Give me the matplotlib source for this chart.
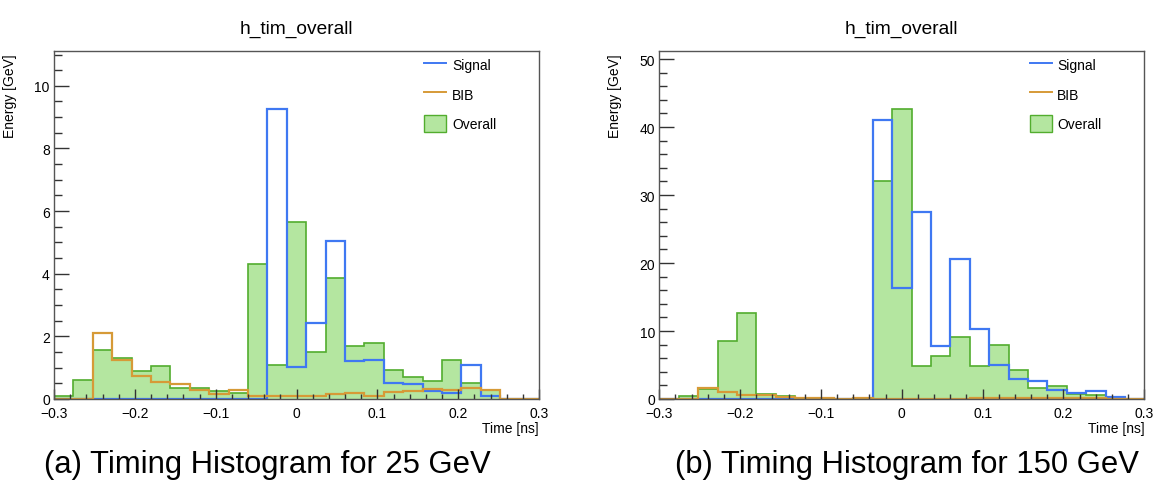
import matplotlib.pyplot as plt
import numpy as np
from matplotlib.lines import Line2D
from matplotlib.patches import Patch
from matplotlib.ticker import MultipleLocator

plt.rcParams['font.family'] = ['Liberation Sans', 'DejaVu Sans']

# 25 bins of 0.024 ns between -0.3 and 0.3 ns
edges = np.linspace(-0.3, 0.3, 26)

# 25 GeV sample
signal_25 = [0, 0, 0, 0, 0, 0, 0, 0, 0, 0, 0, 9.26, 1.01, 2.44, 5.06,
             1.22, 1.25, 0.51, 0.48, 0.24, 0.19, 1.08, 0.08, 0, 0]
bib_25 = [0, 0, 2.12, 1.25, 0.74, 0.55, 0.48, 0.30, 0.16, 0.29, 0.11, 0.11, 0.10,
          0.08, 0.16, 0.19, 0.11, 0.23, 0.27, 0.32, 0.29, 0.34, 0.30, 0, 0]
overall_25 = [0.08, 0.62, 1.58, 1.30, 0.88, 1.04, 0.35, 0.34, 0.25, 0.19, 4.32, 1.07, 5.65,
              1.51, 3.87, 1.68, 1.79, 0.93, 0.69, 0.58, 1.23, 0.50, 0.30, 0, 0]

# 150 GeV sample
signal_150 = [0, 0, 0, 0, 0, 0, 0, 0, 0, 0, 0, 41.0, 16.34, 27.5, 7.83,
              20.65, 10.27, 4.99, 2.98, 2.59, 1.32, 0.88, 1.13, 0.34, 0]
bib_150 = [0, 0, 1.55, 0.98, 0.59, 0.59, 0.24, 0.15, 0.15, 0, 0.15, 0, 0,
           0, 0, 0, 0.1, 0.1, 0.12, 0.15, 0.15, 0.12, 0.1, 0, 0]
overall_150 = [0, 0.44, 1.40, 8.46, 12.72, 0.68, 0.49, 0.15, 0.15, 0, 0.15, 32.0, 42.66,
               4.90, 6.26, 9.05, 4.79, 7.93, 4.31, 1.61, 1.86, 0.68, 0.59, 0.15, 0]

BLUE = '#3f78f2'
ORANGE = '#d69a37'
GREEN_EDGE = '#52ad2e'
GREEN_FILL = '#b4e6a0'


def draw_panel(ax, signal, bib, overall, ymax, major, minor):
    ax.stairs(overall, edges, fill=True, color=GREEN_FILL)
    ax.stairs(overall, edges, color=GREEN_EDGE, lw=1.2)
    ax.stairs(signal, edges, color=BLUE, lw=1.6)
    ax.stairs(bib, edges, color=ORANGE, lw=1.6)

    ax.set_xlim(-0.3, 0.3)
    ax.set_ylim(0, ymax)
    ax.xaxis.set_major_locator(MultipleLocator(0.1))
    ax.xaxis.set_minor_locator(MultipleLocator(0.02))
    ax.yaxis.set_major_locator(MultipleLocator(major))
    ax.yaxis.set_minor_locator(MultipleLocator(minor))
    ax.xaxis.set_major_formatter(lambda v, p: '0' if abs(v) < 1e-9 else f'{v:.1f}'.replace('-', '\u2212'))

    ax.tick_params(axis='both', which='both', direction='in', colors='#333333',
                   labelcolor='black', labelsize=10, pad=3, width=1)
    ax.tick_params(axis='x', which='major', pad=5)
    ax.tick_params(axis='y', which='major', length=10.8)
    ax.tick_params(axis='y', which='minor', length=5.4)
    ax.tick_params(axis='x', which='major', length=7.4)
    ax.tick_params(axis='x', which='minor', length=3.7)
    for s in ax.spines.values():
        s.set_color('#555555')
        s.set_linewidth(1)

    ax.set_title('h_tim_overall', fontsize=13.8, pad=13)
    ax.set_ylabel('Energy [GeV]', loc='top', fontsize=10)
    ax.yaxis.set_label_coords(-0.077, 0.992)
    ax.set_xlabel('Time [ns]', loc='right', fontsize=10)
    ax.xaxis.set_label_coords(1.0, -0.062)

    handles = [Line2D([], [], color=BLUE, lw=1.4),
               Line2D([], [], color=ORANGE, lw=1.4),
               Patch(facecolor=GREEN_FILL, edgecolor=GREEN_EDGE, lw=1)]
    ax.legend(handles, ['Signal', 'BIB', 'Overall'], loc='upper left',
              bbox_to_anchor=(0.752, 1.0), frameon=False, fontsize=10,
              handlelength=1.6, handleheight=1.45, labelspacing=0.93,
              handletextpad=0.4, borderaxespad=0)


fig = plt.figure(figsize=(11.56, 4.89), dpi=100)
ax1 = fig.add_axes([54 / 1156, 89 / 489, 485 / 1156, 348 / 489])
ax2 = fig.add_axes([659.3 / 1156, 89 / 489, 485 / 1156, 348 / 489])

draw_panel(ax1, signal_25, bib_25, overall_25, 1.2 * max(signal_25), 2, 0.5)
draw_panel(ax2, signal_150, bib_150, overall_150, 1.2 * max(overall_150), 10, 2)

fig.text(267.5 / 1156, 0.049, '(a) Timing Histogram for 25 GeV', fontsize=22.3,
         ha='center', va='center')
fig.text(907 / 1156, 0.049, '(b) Timing Histogram for 150 GeV', fontsize=22.3,
         ha='center', va='center')

fig.savefig('out.png', dpi=100)
